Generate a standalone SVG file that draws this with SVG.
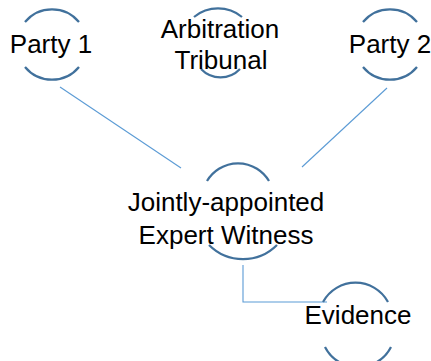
<svg xmlns="http://www.w3.org/2000/svg" width="431" height="361" viewBox="0 0 431 361">
  <style>
    .arc { fill: none; stroke: #41719C; stroke-width: 2.25; stroke-linecap: butt; }
    .link { fill: none; stroke: #5B9BD5; stroke-width: 1.1; }
    .label { font-family: "Liberation Sans", Arial, sans-serif; font-size: 26px; fill: #000; text-anchor: middle; }
  </style>
  <rect width="431" height="361" fill="#FFFFFF"/>

  <!-- connectors -->
  <g id="connectors">
    <line class="link" x1="60" y1="87" x2="181" y2="168"/>
    <line class="link" x1="387" y1="88" x2="302" y2="167"/>
    <polyline class="link" points="243,265 243,302 327,302"/>
  </g>

  <!-- nodes -->
  <g id="party1">
    <path class="arc" d="M25,22 A35,35 0 0 1 79,22"/>
    <path class="arc" d="M25,67 A35,35 0 0 0 79,67"/>
    <text class="label" x="51" y="53">Party 1</text>
  </g>

  <g id="tribunal">
    <path class="arc" d="M194,17 A38,38 0 0 1 242,17"/>
    <path class="arc" d="M201,69 A27,27 0 0 0 240,69"/>
    <text class="label" x="220" y="38">Arbitration</text>
    <text class="label" x="221" y="69">Tribunal</text>
  </g>

  <g id="party2">
    <path class="arc" d="M363,22 A35,35 0 0 1 417,22"/>
    <path class="arc" d="M363,67 A35,35 0 0 0 417,67"/>
    <text class="label" x="390" y="53">Party 2</text>
  </g>

  <g id="expert">
    <path class="arc" d="M207,181 A36,36 0 0 1 269,181"/>
    <path class="arc" d="M209,245 A48,48 0 0 0 277,245"/>
    <text class="label" x="226" y="211">Jointly-appointed</text>
    <text class="label" x="226" y="244">Expert Witness</text>
  </g>

  <g id="evidence">
    <path class="arc" d="M323,302 A37,37 0 0 1 388,302"/>
    <path class="arc" d="M325,347 A37,37 0 0 0 391,347"/>
    <text class="label" x="358" y="324">Evidence</text>
  </g>
</svg>
